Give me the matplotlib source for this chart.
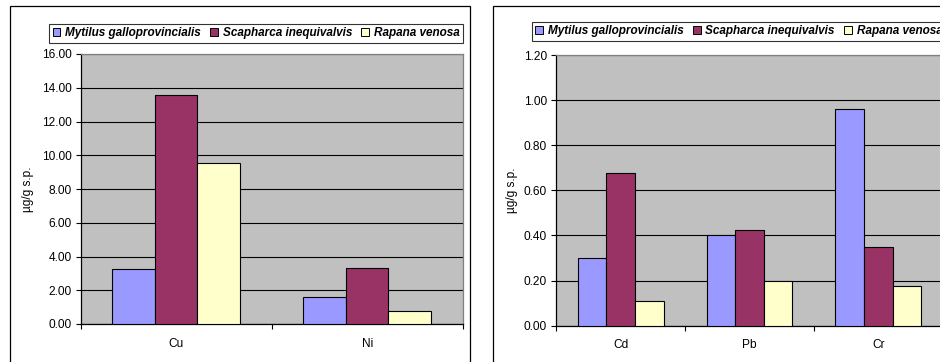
import matplotlib
matplotlib.use("Agg")
import matplotlib.pyplot as plt
from matplotlib.patches import Rectangle, Patch
import numpy as np

plt.rcParams['font.family'] = ['Liberation Sans', 'DejaVu Sans']

species = ["Mytilus galloprovincialis", "Scapharca inequivalvis", "Rapana venosa"]
colors = ["#9999FF", "#993366", "#FFFFCC"]

metals_left = ["Cu", "Ni"]
mytilus_left = [3.26, 1.60]
scapharca_left = [13.55, 3.32]
rapana_left = [9.54, 0.77]

metals_right = ["Cd", "Pb", "Cr"]
mytilus_right = [0.30, 0.40, 0.96]
scapharca_right = [0.677, 0.425, 0.35]
rapana_right = [0.11, 0.197, 0.177]

ylabel = "µg/g s.p."

W, H = 940, 362
fig = plt.figure(figsize=(W / 100, H / 100), dpi=100)

FS = 8.6


def fx(px):
    return px / W


def fy(px):
    return 1 - px / H


# outer chart frames
for x0, x1 in [(10, 469.5), (492.5, 960)]:
    fig.patches.append(Rectangle((fx(x0), fy(380)), fx(x1 - x0), (380 - 6) / H,
                                 transform=fig.transFigure, fill=False,
                                 edgecolor="black", linewidth=0.9, zorder=0))


def draw_panel(rect, cats, series, ymax, ystep, label_x, legend_box):
    ax = fig.add_axes(rect)
    ax.set_facecolor("#C0C0C0")
    n = len(cats)
    x = np.arange(n)
    w = 1 / 4.5
    for i, (vals, c) in enumerate(zip(series, colors)):
        ax.bar(x + (i - 1) * w, vals, width=w, color=c, edgecolor="black",
               linewidth=0.8, zorder=3, label=species[i])
    ax.set_xlim(-0.5, n - 0.5)
    ax.set_ylim(0, ymax)
    yt = np.arange(0, ymax + ystep / 2, ystep)
    ax.set_yticks(yt)
    ax.set_yticklabels([f"{v:.2f}" for v in yt], fontsize=FS)
    ax.yaxis.grid(True, color="black", linewidth=0.8, zorder=1)
    ax.set_axisbelow(True)
    ax.set_xticks(np.arange(-0.5, n, 1.0))
    ax.set_xticklabels([])
    ax.set_xticks(x, minor=True)
    ax.set_xticklabels(cats, minor=True, fontsize=FS)
    ax.tick_params(axis="x", which="minor", length=0, pad=10)
    ax.tick_params(axis="x", which="major", length=3.5, width=0.8, direction="out")
    ax.tick_params(axis="y", length=3.5, width=0.8, pad=3, direction="out")
    for s in ["top", "right"]:
        ax.spines[s].set_color("#808080")
        ax.spines[s].set_linewidth(0.9)
    for s in ["left", "bottom"]:
        ax.spines[s].set_color("black")
        ax.spines[s].set_linewidth(0.9)
    ax.set_ylabel(ylabel, fontsize=FS)
    ax.yaxis.set_label_coords(label_x, 0.5)

    handles = [Patch(facecolor=c, edgecolor="black", linewidth=0.7) for c in colors]
    lx0, ly0, lx1, ly1 = legend_box
    leg = fig.legend(handles, species, loc="lower left",
                     bbox_to_anchor=(fx(lx0), fy(ly1), fx(lx1 - lx0), (ly1 - ly0) / H),
                     bbox_transform=fig.transFigure, mode="expand", ncol=3,
                     prop={"style": "italic", "weight": "bold", "size": 8.5},
                     frameon=True, fancybox=False, borderaxespad=0,
                     handlelength=0.65, handleheight=0.65, handletextpad=0.4,
                     columnspacing=0.6, borderpad=0.3)
    leg.get_frame().set_edgecolor("black")
    leg.get_frame().set_linewidth(0.8)
    return ax


draw_panel([fx(80.5), fy(324), fx(462.7 - 80.5), (324 - 54) / H],
           metals_left, [mytilus_left, scapharca_left, rapana_left],
           16, 2, -0.122, (49, 21, 463, 43))

draw_panel([fx(556), fy(325.6), fx(943 - 556), (325.6 - 55) / H],
           metals_right, [mytilus_right, scapharca_right, rapana_right],
           1.2, 0.2, -0.098, (531.7, 18, 946, 41))

fig.savefig("out.png", dpi=100)
